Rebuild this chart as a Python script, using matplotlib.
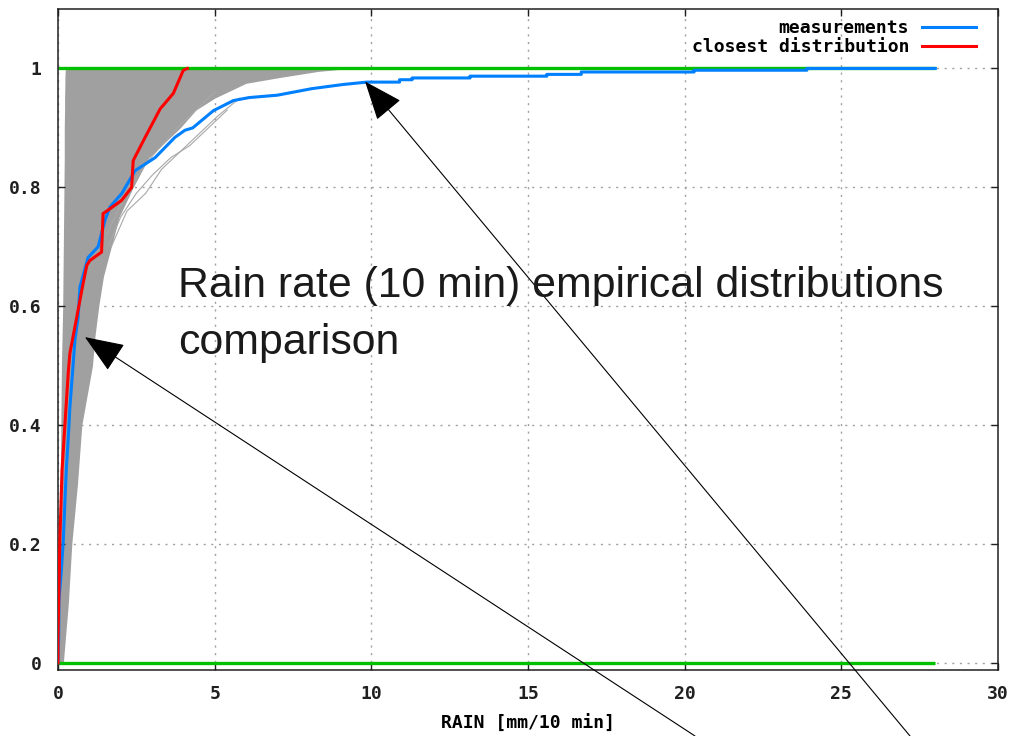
import numpy as np
import matplotlib
matplotlib.use("Agg")
import matplotlib.pyplot as plt

meas_x = [0.0, 0.02, 0.03, 0.1, 0.17, 0.22, 0.27, 0.33, 0.38, 0.48, 0.54, 0.64, 0.7,
          0.96, 1.28, 1.5, 1.66, 2.04, 2.46, 3.1, 3.73, 4.05, 4.3, 4.96, 5.6, 6.1,
          7.0, 8.1, 9.1, 9.85, 10.9, 10.9, 11.3, 11.3, 13.15, 13.15, 15.6, 15.6,
          16.7, 16.7, 20.3, 20.3, 23.9, 23.9, 28.0]
meas_y = [0.0, 0.04, 0.106, 0.15, 0.207, 0.27, 0.33, 0.38, 0.43, 0.5, 0.543, 0.58, 0.632,
          0.682, 0.7, 0.745, 0.767, 0.79, 0.828, 0.85, 0.884, 0.896, 0.9, 0.929, 0.946, 0.951,
          0.955, 0.966, 0.973, 0.977, 0.977, 0.981, 0.981, 0.984, 0.984, 0.987, 0.987, 0.99,
          0.99, 0.994, 0.994, 0.997, 0.997, 1.0, 1.0]

# closest distribution (red)
closest_x = [0.0, 0.0, 0.06, 0.13, 0.22, 0.33, 0.38, 0.6, 0.8, 0.92, 1.02, 1.39, 1.44,
             1.5, 2.03, 2.35, 2.4, 2.78, 3.26, 3.68, 4.0, 4.13]
closest_y = [0.0, 0.04, 0.21, 0.325, 0.4, 0.49, 0.521, 0.582, 0.638, 0.669, 0.677, 0.691, 0.756,
             0.758, 0.778, 0.8, 0.845, 0.884, 0.932, 0.958, 0.997, 1.0]

# envelope of the simulated distributions (gray band)
band_y = [0.0, 0.1, 0.2, 0.3, 0.4, 0.5, 0.55, 0.6, 0.65, 0.7, 0.75, 0.8, 0.85, 0.9,
          0.93, 0.95, 0.975, 0.985, 0.995, 1.0]
band_left = [0.0, 0.03, 0.05, 0.07, 0.09, 0.11, 0.13, 0.15, 0.16, 0.17, 0.18, 0.19, 0.2,
             0.2, 0.21, 0.21, 0.22, 0.22, 0.23, 0.24]
band_right = [0.17, 0.33, 0.44, 0.62, 0.76, 1.1, 1.18, 1.3, 1.45, 1.7, 1.95, 2.4, 2.9, 3.9,
              4.4, 5.0, 6.0, 7.1, 8.3, 9.3]

# a few single simulated curves sticking out of the band
stray_x = [[1.6, 2.0, 2.5, 3.0, 3.6, 4.2, 4.8, 5.4],
           [1.7, 2.2, 2.8, 3.3, 3.9, 4.5, 5.1, 5.8],
           [1.55, 1.9, 2.3, 2.8, 3.3, 3.8, 4.4, 5.0]]
stray_y = [[0.70, 0.75, 0.79, 0.82, 0.85, 0.87, 0.90, 0.93],
           [0.70, 0.76, 0.79, 0.83, 0.86, 0.89, 0.92, 0.95],
           [0.72, 0.76, 0.80, 0.84, 0.87, 0.90, 0.93, 0.96]]

bounds_x = [0, 28]

xticks = [0, 5, 10, 15, 20, 25, 30]
yticks = [0, 0.2, 0.4, 0.6, 0.8, 1]
ytick_labels = ["0", "0.2", "0.4", "0.6", "0.8", "1"]

W, H = 1015, 736
fig = plt.figure(figsize=(W / 100, H / 100), dpi=100)
ax = fig.add_axes([58 / W, 66 / H, 940 / W, 661 / H])

mono = {"family": "DejaVu Sans Mono", "weight": "bold", "size": 13}

ax.fill_betweenx(band_y, band_left, band_right, color="#a0a0a0", lw=0, zorder=1)
for sx, sy in zip(stray_x, stray_y):
    ax.plot(sx, sy, color="#a8a8a8", lw=0.8, zorder=1)

ax.plot(bounds_x, [0, 0], color="#00c000", lw=2.4, zorder=2, solid_capstyle="butt")
ax.plot(bounds_x, [1, 1], color="#00c000", lw=2.4, zorder=2, solid_capstyle="butt")
ax.plot(meas_x, meas_y, color="#0080ff", lw=2.2, zorder=3, label="measurements")
ax.plot(closest_x, closest_y, color="#ff0000", lw=2.2, zorder=4,
        label="closest distribution")

ax.set_xlim(0, 30)
ax.set_ylim(-0.012, 1.1)
ax.set_xticks(xticks)
ax.set_yticks(yticks)
ax.set_yticklabels(ytick_labels)
for lab in ax.get_xticklabels() + ax.get_yticklabels():
    lab.set_fontfamily(mono["family"])
    lab.set_fontweight("bold")
    lab.set_fontsize(mono["size"])
ax.tick_params(direction="in", length=5, width=1, top=True, right=True, colors="#202020")
ax.tick_params(axis="x", pad=11)
ax.tick_params(axis="y", pad=12)
ax.grid(True, color="#a0a0a0", lw=1, linestyle=(0, (1.5, 4)))
for sp in ax.spines.values():
    sp.set_linewidth(1.1)
    sp.set_color("#202020")

ax.set_xlabel("RAIN [mm/10 min]", fontdict=mono, labelpad=8)

leg = ax.legend(loc="upper right", bbox_to_anchor=(976 / W, (H - 19) / H),
                bbox_transform=fig.transFigure, frameon=False, markerfirst=False,
                prop={"family": "DejaVu Sans Mono", "weight": "bold", "size": 13},
                handlelength=3.0, handletextpad=0.7, labelspacing=0.05,
                borderaxespad=0, borderpad=0)

fig.text(178 / W, 1 - 297 / H, "Rain rate (10 min) empirical distributions",
         fontsize=30.8, family="Liberation Sans", color="#1a1a1a", va="baseline")
fig.text(178 / W, 1 - 354 / H, "comparison",
         fontsize=30.8, family="Liberation Sans", color="#1a1a1a", va="baseline")

arrow = dict(arrowstyle="-|>,head_length=1.25,head_width=0.5", mutation_scale=20,
             color="black", lw=0.8, shrinkA=0, shrinkB=0)
ax.annotate("", xy=(0.86, 0.548), xycoords="data",
            xytext=(695 / W, 0), textcoords="figure fraction",
            arrowprops=arrow, annotation_clip=False)
ax.annotate("", xy=(9.8, 0.978), xycoords="data",
            xytext=(910 / W, 0), textcoords="figure fraction",
            arrowprops=arrow, annotation_clip=False)

fig.savefig("out.png", dpi=100)
